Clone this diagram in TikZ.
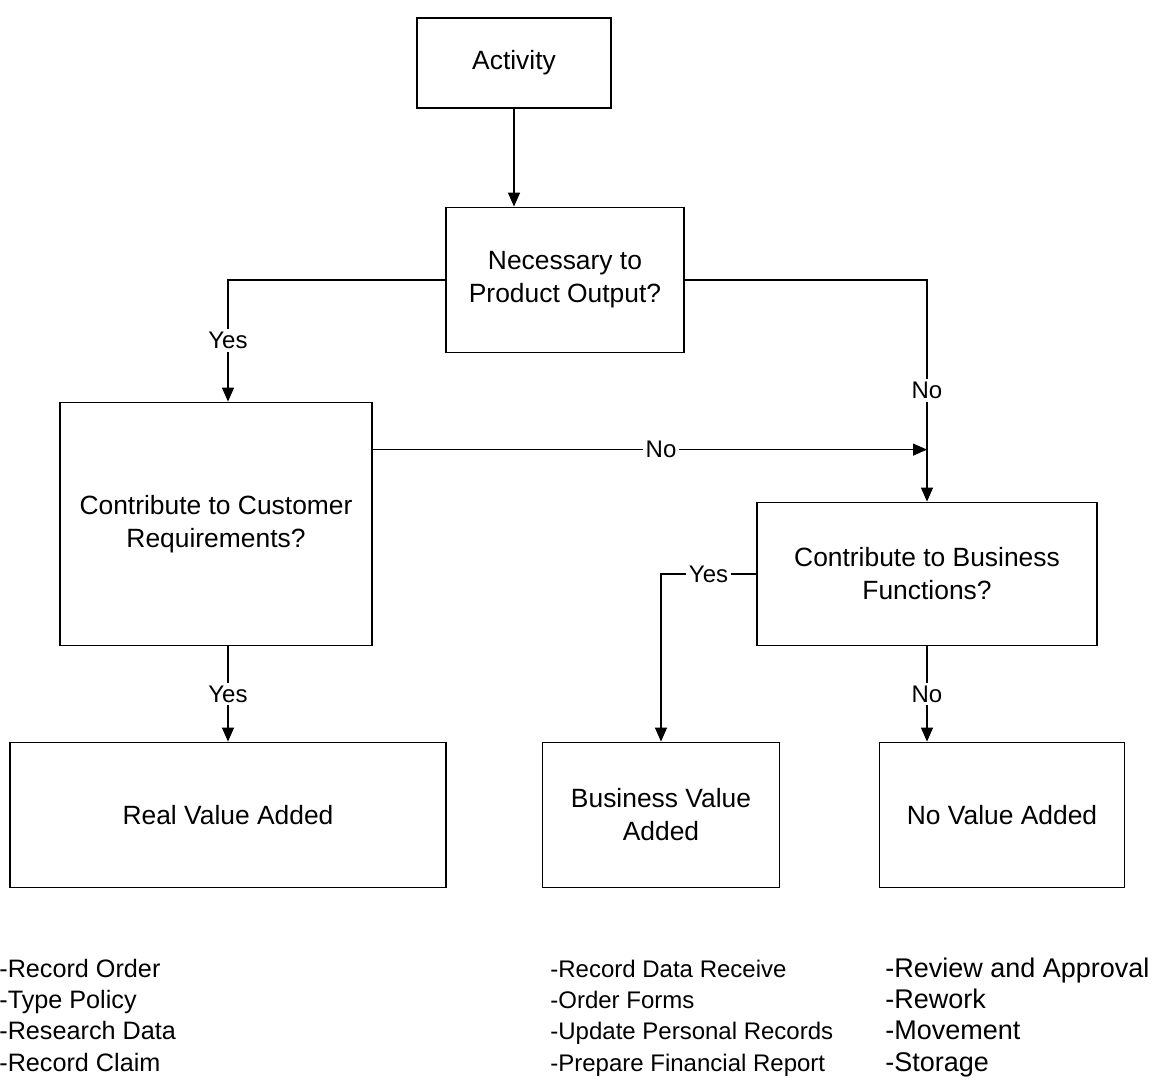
\documentclass[tikz,border=0pt]{standalone}
\usepackage{fontspec}
\setmainfont{Liberation Sans}
\usepackage{tikz}
\usetikzlibrary{arrows.meta,positioning}

\begin{document}
\begin{tikzpicture}[x=0.5pt,y=-0.5pt,
  box/.style={draw,line width=0.9pt,align=center,inner sep=0pt,font=\fontsize{13.2}{16.5}\selectfont},
  flow/.style={line width=0.6pt,-{Triangle[length=7pt,width=6pt]}},
  tag/.style={fill=white,inner sep=1.5pt,font=\fontsize{12}{14}\selectfont},
  list/.style={anchor=base west,align=left,inner sep=0pt,font=\fontsize{#1}{15.6}\selectfont},
  list/.default=12]
\useasboundingbox (0,0) rectangle (1158,1083);
\node[box,minimum width=97pt,minimum height=45pt] (act) at (514,63) {Activity};
\node[box,minimum width=119pt,minimum height=72.5pt] (nec) at (565,280) {Necessary to\\Product Output?};
\node[box,minimum width=156pt,minimum height=121.5pt] (cust) at (216,524) {Contribute to Customer\\Requirements?};
\node[box,minimum width=170pt,minimum height=71.5pt] (bus) at (927,574) {Contribute to Business\\Functions?};
\node[box,minimum width=218pt,minimum height=72.5pt] (real) at (228,815) {Real Value Added};
\node[box,minimum width=118.5pt,minimum height=72.5pt] (bva) at (661,815) {Business Value\\Added};
\node[box,minimum width=122.5pt,minimum height=72.5pt] (nva) at (1002,815) {No Value Added};
\coordinate[below=24pt of cust.north east] (cno);
\draw[flow] (act.south) -- (act.south |- nec.north);
\draw[flow] (nec.west) -| node[tag,pos=0.75]{Yes} (real.north |- cust.north);
\draw[flow] (nec.east) -| node[tag,pos=0.75]{No} (bus.north);
\draw[flow] (cno) -- node[tag,pos=0.52]{No} (cno -| bus.north);
\draw[flow] (bus.west) -| node[tag,pos=0.25]{Yes} (bva.north);
\draw[flow] (cust.south -| real.north) -- node[tag]{Yes} (real.north);
\draw[flow] (bus.south) -- node[tag]{No} (bus.south |- nva.north);
\node[list=12.6] (realex) at (-1,1071) {-Record Order\\-Type Policy\\-Research Data\\-Record Claim};
\node[list] (bvaex) at (550,1071) {-Record Data Receive\\-Order Forms\\-Update Personal Records\\-Prepare Financial Report};
\node[list=13.5] (nvaex) at (885,1071) {-Review and Approval\\-Rework\\-Movement\\-Storage};
\end{tikzpicture}
\end{document}
